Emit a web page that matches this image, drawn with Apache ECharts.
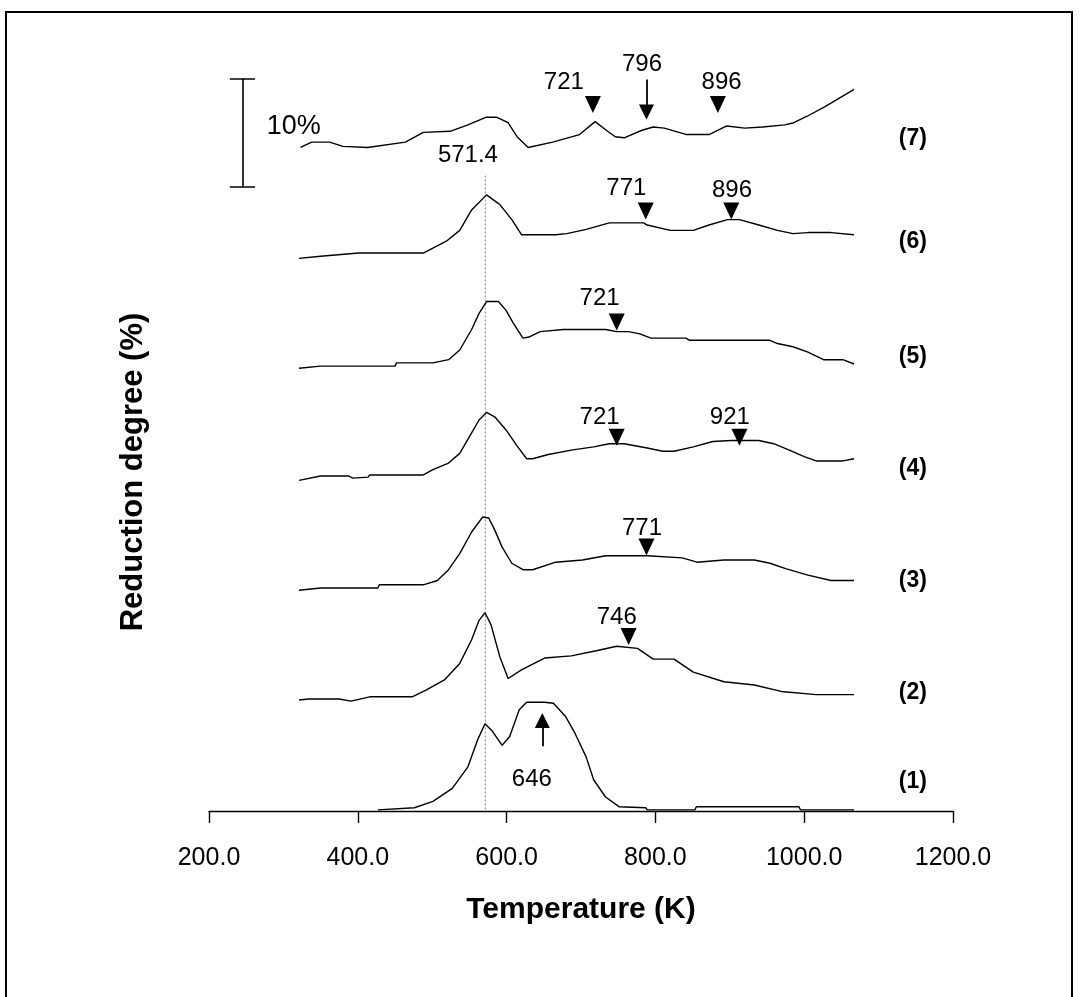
<!DOCTYPE html>
<html>
<head>
<meta charset="utf-8">
<script src="https://cdn.jsdelivr.net/npm/echarts@6/dist/echarts.min.js"></script>
<style>
  html, body { margin: 0; padding: 0; background: #fff; }
  #container { width: 1088px; height: 997px; }
</style>
</head>
<body>
<div id="container"></div>
<script>
// [temperature K, reduction degree %] - each trace already shifted by its offset
const curve1 = [[427,0.1],[476,0.3],[501,0.9],[527,2.1],[548,4.1],[561,6.6],[571,8.1],[581,7.4],[594,6.1],[604,6.9],[617,9.4],[627,10.1],[651,10.1],[663,10.0],[679,8.8],[692,7.2],[707,5.0],[717,2.9],[733,1.3],[751,0.4],[787,0.3],[789,0.1],[853,0.1],[855,0.4],[993,0.4],[995,0.1],[1067,0.1]];
const curve2 = [[321,10.3],[334,10.4],[375,10.4],[391,10.2],[416,10.6],[473,10.6],[491,11.2],[517,12.2],[537,13.7],[553,15.9],[563,17.7],[571,18.4],[579,17.3],[591,14.3],[602,12.3],[620,13.1],[651,14.2],[687,14.4],[722,14.9],[748,15.3],[776,15.1],[797,14.1],[825,14.1],[851,12.9],[892,12.0],[933,11.7],[969,11.1],[1016,10.8],[1067,10.8]];
const curve3 = [[321,20.5],[350,20.7],[427,20.7],[429,21.0],[488,21.0],[507,21.4],[522,22.4],[537,23.9],[553,25.9],[568,27.3],[576,27.2],[584,26.1],[594,24.5],[607,23.0],[622,22.4],[635,22.4],[666,23.1],[702,23.3],[733,23.7],[789,23.7],[836,23.5],[856,23.1],[892,23.3],[933,23.3],[954,23.0],[975,22.5],[1005,21.9],[1036,21.4],[1067,21.4]];
const curve4 = [[321,30.7],[350,31.1],[388,31.1],[393,30.9],[414,31.0],[416,31.2],[488,31.2],[501,31.7],[522,32.3],[537,33.2],[553,35.1],[563,36.3],[573,37.0],[584,36.6],[599,35.4],[615,33.8],[627,32.7],[635,32.7],[656,33.1],[687,33.5],[717,33.8],[738,34.1],[758,34.1],[789,33.7],[810,33.4],[825,33.4],[851,33.8],[877,34.3],[902,34.4],[939,34.4],[959,34.1],[980,33.5],[1000,32.9],[1016,32.5],[1052,32.5],[1067,32.7]];
const curve5 = [[321,41.1],[350,41.3],[450,41.3],[452,41.6],[501,41.6],[522,41.9],[537,42.8],[553,44.7],[563,46.2],[573,47.3],[589,47.3],[599,46.5],[609,45.3],[622,43.9],[630,44.0],[645,44.5],[676,44.7],[733,44.7],[748,44.5],[764,44.5],[779,44.3],[794,43.9],[841,43.9],[846,43.7],[954,43.7],[964,43.4],[985,43.1],[1005,42.6],[1026,41.9],[1052,41.9],[1067,41.5]];
const curve6 = [[321,51.3],[350,51.5],[401,51.8],[488,51.8],[519,52.9],[537,53.9],[553,55.8],[573,57.2],[591,56.3],[607,54.9],[620,53.5],[666,53.5],[681,53.6],[707,54.0],[738,54.6],[784,54.6],[789,54.4],[820,53.9],[851,53.9],[872,54.4],[897,54.9],[913,54.9],[939,54.4],[964,53.9],[985,53.6],[1005,53.7],[1036,53.7],[1067,53.5]];
const curve7 = [[323,61.6],[338,62.1],[362,62.1],[380,61.7],[413,61.6],[464,62.1],[488,63.0],[524,63.1],[548,63.7],[572,64.4],[587,64.4],[602,63.9],[614,62.6],[629,61.6],[662,62.1],[698,62.8],[719,64.0],[734,63.2],[746,62.6],[758,62.5],[782,63.2],[797,63.5],[812,63.4],[842,62.8],[872,62.8],[896,63.6],[920,63.4],[944,63.5],[974,63.7],[986,63.9],[1004,64.5],[1028,65.4],[1067,67.0]];

const curves = [curve1, curve2, curve3, curve4, curve5, curve6, curve7];
const curveNames = ['(1)', '(2)', '(3)', '(4)', '(5)', '(6)', '(7)'];
const curveNameY = [2.7, 11.0, 21.4, 31.8, 42.2, 52.9, 62.4];
const curveNameT = 1146;

// downward triangles marking peaks
const peakMarks = [[716,65.6],[884,65.6],[787,55.7],[902,55.7],[748,45.4],[748,34.7],[913,34.7],[788,24.5],[764,16.2]];
// peak temperature texts
const peakTexts = ['721','796','896','771','896','721','721','921','771','746','646','571.4'];
const peakTextPos = [[677,67.6],[782,69.3],[889,67.6],[761,57.8],[903,57.6],[725,47.6],[725,36.5],[900,36.5],[782,26.2],[748,18.0],[634,2.9],[548,60.9]];
// arrows [from, to]
const arrows = [[[788,67.9],[788,64.9]], [[648,6.0],[648,8.4]]];
// 10 % scale bar
const scaleBar = [[[245,68],[245,58]], [[228,68],[262,68]], [[228,58],[262,58]]];
const scaleText = '10%';
const scaleTextPos = [314, 63.5];
const peakT = 571.4;
const peakLine = [[peakT,59],[peakT,0]];

const xTicks = [200, 400, 600, 800, 1000, 1200];

const font = "'Liberation Sans', Arial, sans-serif";

const dom = document.getElementById('container');
const myChart = echarts.init(dom, null, { renderer: 'canvas' });

function textSeries(points, texts, size, weight) {
  return {
    type: 'scatter',
    data: points.map((p, i) => ({ value: p, name: texts[i] })),
    symbol: 'circle',
    symbolSize: 1,
    itemStyle: { color: 'rgba(0,0,0,0)', opacity: 1 },
    label: {
      show: true, position: 'inside', formatter: (p) => p.name,
      color: '#000', opacity: 1, fontFamily: font, fontWeight: weight, fontSize: size
    },
    emphasis: { disabled: true },
    z: 5
  };
}

const series = curves.map((c, i) => ({
  name: curveNames[i],
  type: 'line',
  data: c,
  symbol: 'none',
  lineStyle: { color: '#000', width: 1.4 },
  z: 3
}));

series.push(textSeries(curveNameY.map((y) => [curveNameT, y]), curveNames, 23, 'bold'));
series.push(textSeries(peakTextPos, peakTexts, 24, 'normal'));
series.push(textSeries([scaleTextPos], [scaleText], 27, 'normal'));

series.push({
  type: 'scatter',
  data: peakMarks,
  symbol: 'triangle',
  symbolRotate: 180,
  symbolSize: [16, 17],
  itemStyle: { color: '#000', opacity: 1 },
  z: 4
});

series.push({
  type: 'lines',
  coordinateSystem: 'cartesian2d',
  data: arrows.map((a) => ({ coords: a })),
  symbol: ['none', 'triangle'],
  symbolSize: 15,
  lineStyle: { color: '#000', width: 1.8, opacity: 1 },
  z: 4
});

series.push({
  type: 'lines',
  coordinateSystem: 'cartesian2d',
  data: scaleBar.map((a) => ({ coords: a })),
  symbol: 'none',
  lineStyle: { color: '#000', width: 1.6, opacity: 1 }
});

series.push({
  type: 'line',
  data: peakLine,
  symbol: 'none',
  lineStyle: { color: '#888', width: 1, type: [2, 2] },
  z: 1
});

const option = {
  animation: false,
  backgroundColor: '#fff',
  grid: { left: 209, right: 135, top: 57, bottom: 186 },
  xAxis: {
    type: 'value',
    min: 200,
    max: 1200,
    interval: 200,
    name: 'Temperature (K)',
    nameLocation: 'middle',
    nameGap: 84,
    nameTextStyle: { color: '#000', fontFamily: font, fontWeight: 'bold', fontSize: 30 },
    axisLine: { lineStyle: { color: '#000', width: 1.4 } },
    axisTick: { length: 12, lineStyle: { color: '#000', width: 1.4 } },
    axisLabel: {
      margin: 35, color: '#000', fontFamily: font, fontSize: 25,
      formatter: (v) => xTicks.includes(v) ? v.toFixed(1) : ''
    },
    splitLine: { show: false }
  },
  yAxis: {
    type: 'value',
    min: 0,
    max: 70,
    axisLine: { show: false },
    axisTick: { show: false },
    axisLabel: { show: false },
    splitLine: { show: false }
  },
  graphic: [{
    type: 'rect',
    shape: { x: 6, y: 12, width: 1066, height: 1000 },
    style: { fill: 'none', stroke: '#000', lineWidth: 2 },
    silent: true
  }, {
    type: 'text',
    x: 133,
    y: 472,
    rotation: Math.PI / 2,
    style: {
      text: 'Reduction degree (%)',
      fill: '#000',
      font: "bold 31px 'Liberation Sans', Arial, sans-serif",
      align: 'center',
      verticalAlign: 'middle'
    },
    silent: true
  }],
  series: series
};

myChart.setOption(option);
window.addEventListener('resize', myChart.resize);
</script>
</body>
</html>
